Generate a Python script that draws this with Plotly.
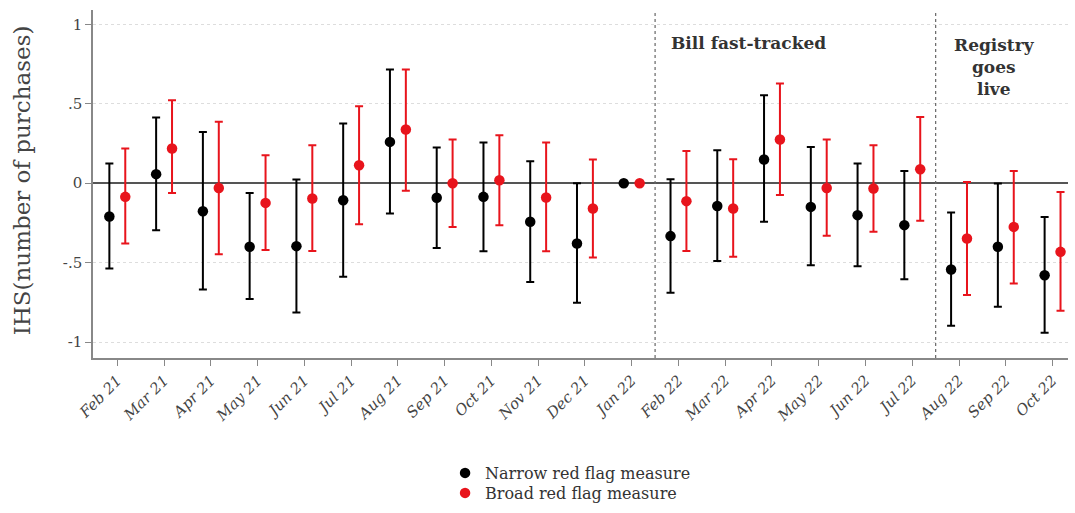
import plotly.graph_objects as go

months = ["Feb 21", "Mar 21", "Apr 21", "May 21", "Jun 21", "Jul 21", "Aug 21", "Sep 21",
          "Oct 21", "Nov 21", "Dec 21", "Jan 22", "Feb 22", "Mar 22", "Apr 22", "May 22",
          "Jun 22", "Jul 22", "Aug 22", "Sep 22", "Oct 22"]

narrow_est = [-0.21, 0.057, -0.176, -0.40, -0.396, -0.107, 0.26, -0.092, -0.086, -0.243, -0.379, 0.0,
              -0.333, -0.143, 0.149, -0.149, -0.201, -0.264, -0.543, -0.40, -0.579]
narrow_hi = [0.124, 0.413, 0.323, -0.061, 0.023, 0.375, 0.715, 0.224, 0.256, 0.138, 0.0, 0.0,
             0.025, 0.208, 0.553, 0.228, 0.124, 0.077, -0.184, -0.002, -0.212]
narrow_lo = [-0.537, -0.296, -0.669, -0.728, -0.813, -0.589, -0.19, -0.407, -0.428, -0.621, -0.753, 0.0,
             -0.69, -0.489, -0.243, -0.516, -0.522, -0.604, -0.897, -0.778, -0.941]

broad_est = [-0.086, 0.218, -0.03, -0.124, -0.096, 0.113, 0.338, 0.0, 0.019, -0.09, -0.159, 0.0,
             -0.113, -0.159, 0.275, -0.03, -0.033, 0.088, -0.348, -0.275, -0.432]
broad_hi = [0.218, 0.522, 0.386, 0.176, 0.239, 0.484, 0.715, 0.275, 0.302, 0.256, 0.149, 0.0,
            0.203, 0.151, 0.627, 0.275, 0.239, 0.417, 0.008, 0.077, -0.055]
broad_lo = [-0.379, -0.061, -0.447, -0.421, -0.426, -0.258, -0.048, -0.275, -0.264, -0.428, -0.467, 0.0,
            -0.426, -0.463, -0.075, -0.331, -0.306, -0.237, -0.704, -0.631, -0.803]

ytick_vals = [-1, -0.5, 0, 0.5, 1]
ytick_text = ["-1", "-.5", "0", ".5", "1"]
event_positions = [11.5, 17.5]

serif = "DejaVu Serif, Liberation Serif, serif"
off = 0.17
idx = list(range(len(months)))

fig = go.Figure()


def add_series(est, hi, lo, color, name, shift, legend):
    has_ci = [h != l for h, l in zip(hi, lo)]
    fig.add_trace(go.Scatter(
        x=[i + shift for i in idx], y=est, mode="markers", name=name, legend=legend,
        marker=dict(color=color, size=10.5),
        error_y=dict(type="data", symmetric=False,
                     array=[h - e if c else 0 for h, e, c in zip(hi, est, has_ci)],
                     arrayminus=[e - l if c else 0 for l, e, c in zip(lo, est, has_ci)],
                     color=color, thickness=2, width=4, visible=True),
    ))


add_series(narrow_est, narrow_hi, narrow_lo, "#000000", "Narrow red flag measure", -off, "legend")
add_series(broad_est, broad_hi, broad_lo, "#e8141c", "Broad red flag measure", off, "legend2")

for xv in event_positions:
    fig.add_shape(type="line", x0=xv, x1=xv, y0=0, y1=1, xref="x", yref="paper",
                  line=dict(color="#666666", width=1.2, dash="dot"))

fig.add_annotation(x=11.8, y=0.88, xref="x", yref="y", text="<b>Bill fast-tracked</b>",
                   showarrow=False, xanchor="left", yanchor="middle",
                   font=dict(family=serif, size=17, color="#333333"))
fig.add_annotation(x=18.75, y=0.945, xref="x", yref="y", text="<b>Registry<br>goes<br>live</b>",
                   showarrow=False, xanchor="center", yanchor="top", align="center",
                   font=dict(family=serif, size=17, color="#333333"))
fig.add_annotation(x=-0.073, y=0.51, xref="paper", yref="paper", text="IHS(number of purchases)",
                   showarrow=False, textangle=-90, xanchor="center", yanchor="middle",
                   font=dict(family=serif, size=23, color="#444444"))

leg_common = dict(orientation="v", xref="container", yref="container", xanchor="left",
                  yanchor="middle", font=dict(family=serif, size=16, color="#333333"),
                  itemwidth=30, bgcolor="rgba(0,0,0,0)")

fig.update_layout(
    width=1075, height=513,
    margin=dict(l=93, r=7, t=10, b=155, autoexpand=False),
    plot_bgcolor="white", paper_bgcolor="white",
    font=dict(family=serif, color="#333333"),
    showlegend=True,
    legend=dict(x=0.414, y=1 - 473 / 513, **leg_common),
    legend2=dict(x=0.414, y=1 - 493 / 513, **leg_common),
    xaxis=dict(range=[-0.52, 20.33], tickmode="array", tickvals=idx, ticktext=months,
               tickangle=-45, ticks="outside", ticklen=6, tickcolor="#888888",
               tickfont=dict(family=serif, size=15, style="italic", color="#444444"),
               showgrid=False, zeroline=False, showline=True, linecolor="#888888", linewidth=1.5,
               mirror=False, automargin=False),
    yaxis=dict(range=[-1.1, 1.09], tickmode="array", tickvals=ytick_vals, ticktext=ytick_text,
               ticks="outside", ticklen=6, tickcolor="#888888",
               tickfont=dict(family=serif, size=15, color="#444444"),
               showgrid=True, gridcolor="#dddddd", griddash="dot", gridwidth=1,
               zeroline=True, zerolinecolor="#555555", zerolinewidth=1.5,
               showline=True, linecolor="#888888", linewidth=1.5, automargin=False),
)

fig.write_html("out.html")
